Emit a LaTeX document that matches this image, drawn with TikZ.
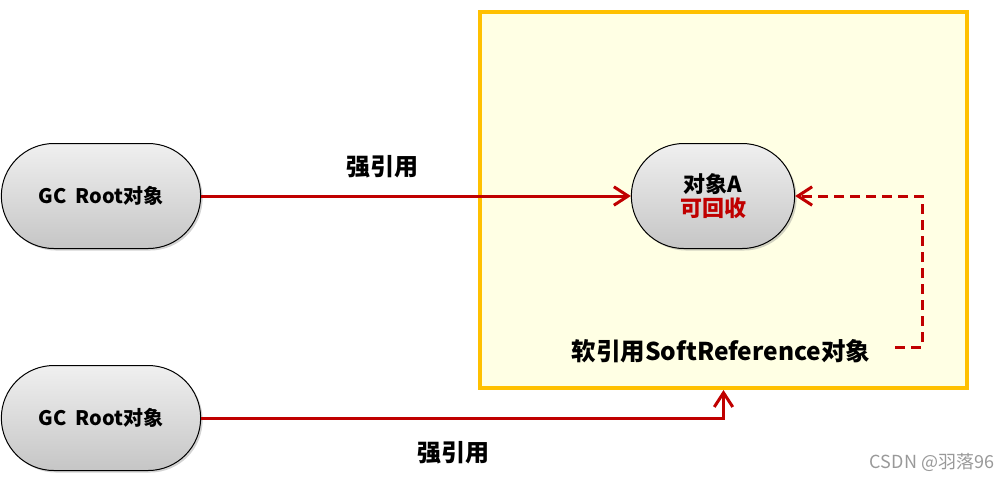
\documentclass[tikz,border=0pt]{standalone}
\usepackage{fontspec}
\setmainfont{Noto Sans CJK SC}
\usetikzlibrary{arrows.meta,shapes.misc,shadows}
\tikzset{>={Straight Barb[length=5mm,width=6.5mm]}}
\definecolor{RefRed}{RGB}{192,0,0}
\definecolor{BoxEdge}{RGB}{255,192,0}
\definecolor{BoxFill}{RGB}{255,255,228}
\tikzset{
	objnode/.style={rounded rectangle,draw=black,line width=1pt,minimum width=#1,minimum height=105pt,
		top color=gray!12,bottom color=gray!45,drop shadow={opacity=0.35,shadow xshift=2pt,shadow yshift=-2pt},
		font=\fontsize{20}{24}\selectfont\bfseries,align=center},
	strongref/.style={->,RefRed,line width=3pt},
	softref/.style={->,RefRed,line width=3pt,dash pattern=on 10pt off 6pt},
	reflabel/.style={font=\fontsize{24}{28}\selectfont\bfseries}
}

\begin{document}
\begin{tikzpicture}[x=1pt,y=-1pt]
		\useasboundingbox (0,0) rectangle (1003,480);

		% soft reference box
		\node[draw=BoxEdge,fill=BoxFill,line width=4pt,minimum width=487pt,minimum height=376pt] (softbox) at (723.5,200) {};
		\node[font=\fontsize{24.5}{28}\selectfont\bfseries] (softlabel) at (721,351) {软引用SoftReference对象};

		% objects
		\node[objnode=206pt] (root1) at (101,196) {GC\ \ Root对象};
		\node[objnode=206pt] (root2) at (101,418) {GC\ \ Root对象};
		\node[objnode=170pt,font=\fontsize{22}{25}\selectfont\bfseries] (objA) at (713,196) {对象A\\[-1pt]\textcolor{RefRed}{可回收}};

		% strong references
		\draw[strongref] (root1.east) -- (objA.west);
		\node[reflabel] (strong1) at (382,167) {强引用};
		\draw[strongref] (root2.east) -| (softbox.south);
		\node[reflabel] (strong2) at (453,453) {强引用};

		% soft reference back to object A
		\coordinate (softend) at (895,347);
		\draw[softref] (softend) -- ++(27,0) |- (objA.east);

		% watermark
		\node[text=gray!80,font=\fontsize{18}{20}\selectfont] (mark) at (932,462) {CSDN @羽落96};
\end{tikzpicture}
\end{document}
